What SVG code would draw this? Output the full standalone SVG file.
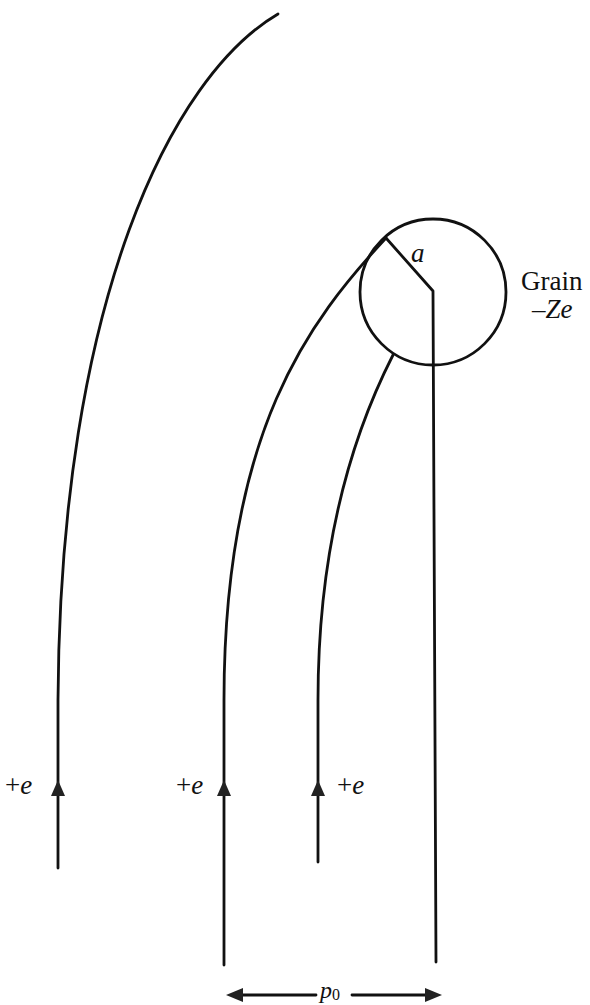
<svg xmlns="http://www.w3.org/2000/svg" width="590" height="1005" viewBox="0 0 590 1005">
<style>
.ln{fill:none;stroke:#111;stroke-width:2.8;stroke-linecap:round;stroke-linejoin:round}
.ah{fill:#222}
.t{font-family:"Liberation Serif","DejaVu Serif",serif;font-size:27px;fill:#111}
.i{font-style:italic}
</style>
<rect width="590" height="1005" fill="#fff"/>
<g id="grain">
<circle class="ln" cx="433" cy="292" r="73"/>
<text class="t" x="521" y="290">Grain</text>
<text class="t i" x="532" y="318">–Ze</text>
<text class="t i" x="411" y="262">a</text>
</g>
<g id="connectors">
<path id="traj1" class="ln" d="M278,14 C172,76 60,300 58,700 L58,868"/>
<path id="traj2" class="ln" d="M386,238 C310,320 224,430 224,700 L224,965"/>
<path id="traj3" class="ln" d="M393,355 C365,410 318,520 318,700 L318,862"/>
<path id="traj4" class="ln" d="M386,238 L433,291 L436,962"/>
<polygon class="ah" points="58,780 51,796 65,796"/>
<polygon class="ah" points="224,780 217,796 231,796"/>
<polygon class="ah" points="318,780 311,796 325,796"/>
<line class="ln" x1="240" y1="995" x2="316" y2="995"/>
<line class="ln" x1="352" y1="995" x2="428" y2="995"/>
<polygon class="ah" points="226,995 243,988 243,1002"/>
<polygon class="ah" points="442,995 425,988 425,1002"/>
</g>
<g id="labels">
<text class="t" x="5" y="794">+<tspan class="i">e</tspan></text>
<text class="t" x="176" y="794">+<tspan class="i">e</tspan></text>
<text class="t" x="337" y="794">+<tspan class="i">e</tspan></text>
<text class="t" x="320" y="998"><tspan class="i" font-size="24">p</tspan><tspan font-size="16" dy="2">0</tspan></text>
</g>
</svg>
